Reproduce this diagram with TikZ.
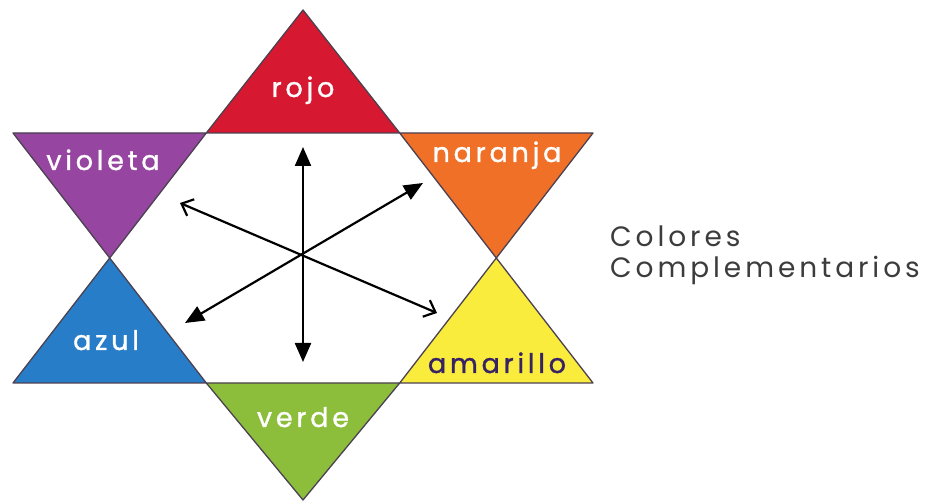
\documentclass[tikz,border=0pt]{standalone}
\usepackage{fontspec}
\usetikzlibrary{arrows.meta}
\newfontfamily\labfont[LetterSpace=14,FakeBold=1.2]{Poppins}
\newfontfamily\titfont[LetterSpace=14]{Poppins}
\definecolor{crojo}{RGB}{214,24,48}
\definecolor{cnaranja}{RGB}{240,112,40}
\definecolor{camarillo}{RGB}{250,236,60}
\definecolor{cverde}{RGB}{140,190,60}
\definecolor{cazul}{RGB}{40,125,200}
\definecolor{cvioleta}{RGB}{150,70,160}
\definecolor{cedge}{RGB}{75,65,80}
\definecolor{cdarktext}{RGB}{55,35,100}
\definecolor{ctitle}{RGB}{60,60,60}
\begin{document}
\begin{tikzpicture}[x=1pt,y=-1pt,
  tri/.style={draw=cedge,line width=1.3pt,line join=round},
  lab/.style={anchor=base,text=white,font=\labfont\fontsize{27}{30}\selectfont,inner sep=0pt},
  arr/.style={line width=2.2pt,black,{Triangle[length=19pt,width=16pt]}-{Triangle[length=19pt,width=16pt]}},
  arro/.style={line width=2.2pt,black,{Straight Barb[length=10pt,width=18pt]}-{Straight Barb[length=10pt,width=18pt]}},
  title/.style={anchor=base west,text=ctitle,font=\titfont\fontsize{28}{31}\selectfont,inner sep=0pt}]
\useasboundingbox (0,0) rectangle (930,502);
% star points
\coordinate (T) at (303,10);
\coordinate (B) at (303,500);
\coordinate (UL) at (13,133);
\coordinate (UR) at (593,133);
\coordinate (LL) at (13,383);
\coordinate (LR) at (593,383);
\coordinate (ha) at (206.3,133);
\coordinate (hb) at (399.7,133);
\coordinate (hc) at (496.3,258);
\coordinate (hd) at (399.7,383);
\coordinate (he) at (206.3,383);
\coordinate (hf) at (109.7,258);
% triangles
\filldraw[tri,fill=crojo] (T) -- (ha) -- (hb) -- cycle;
\filldraw[tri,fill=cnaranja] (hb) -- (UR) -- (hc) -- cycle;
\filldraw[tri,fill=camarillo] (hc) -- (LR) -- (hd) -- cycle;
\filldraw[tri,fill=cverde] (hd) -- (he) -- (B) -- cycle;
\filldraw[tri,fill=cazul] (he) -- (LL) -- (hf) -- cycle;
\filldraw[tri,fill=cvioleta] (hf) -- (UL) -- (ha) -- cycle;
% labels
\node[lab] (rojo) at (303,97) {rojo};
\node[lab] (violeta) at (103,170) {violeta};
\node[lab] (naranja) at (497,162) {naranja};
\node[lab] (azul) at (106,350) {azul};
\node[lab,text=cdarktext] (amarillo) at (497,373) {amarillo};
\node[lab] (verde) at (303,427) {verde};
% arrows
\coordinate (vt) at (303,147);
\coordinate (vb) at (303,362);
\coordinate (pa) at (423,183);
\coordinate (pb) at (185,323);
\coordinate (qa) at (180,203);
\coordinate (qb) at (437,313);
\draw[arr] (vb) -- (vt);
\draw[arr] (pb) -- (pa);
\draw[arro] (qa) -- (qb);
% title
\node[title] (t1) at (610,247) {Colores};
\node[title] (t2) at (610,278) {Complementarios};
\end{tikzpicture}
\end{document}
